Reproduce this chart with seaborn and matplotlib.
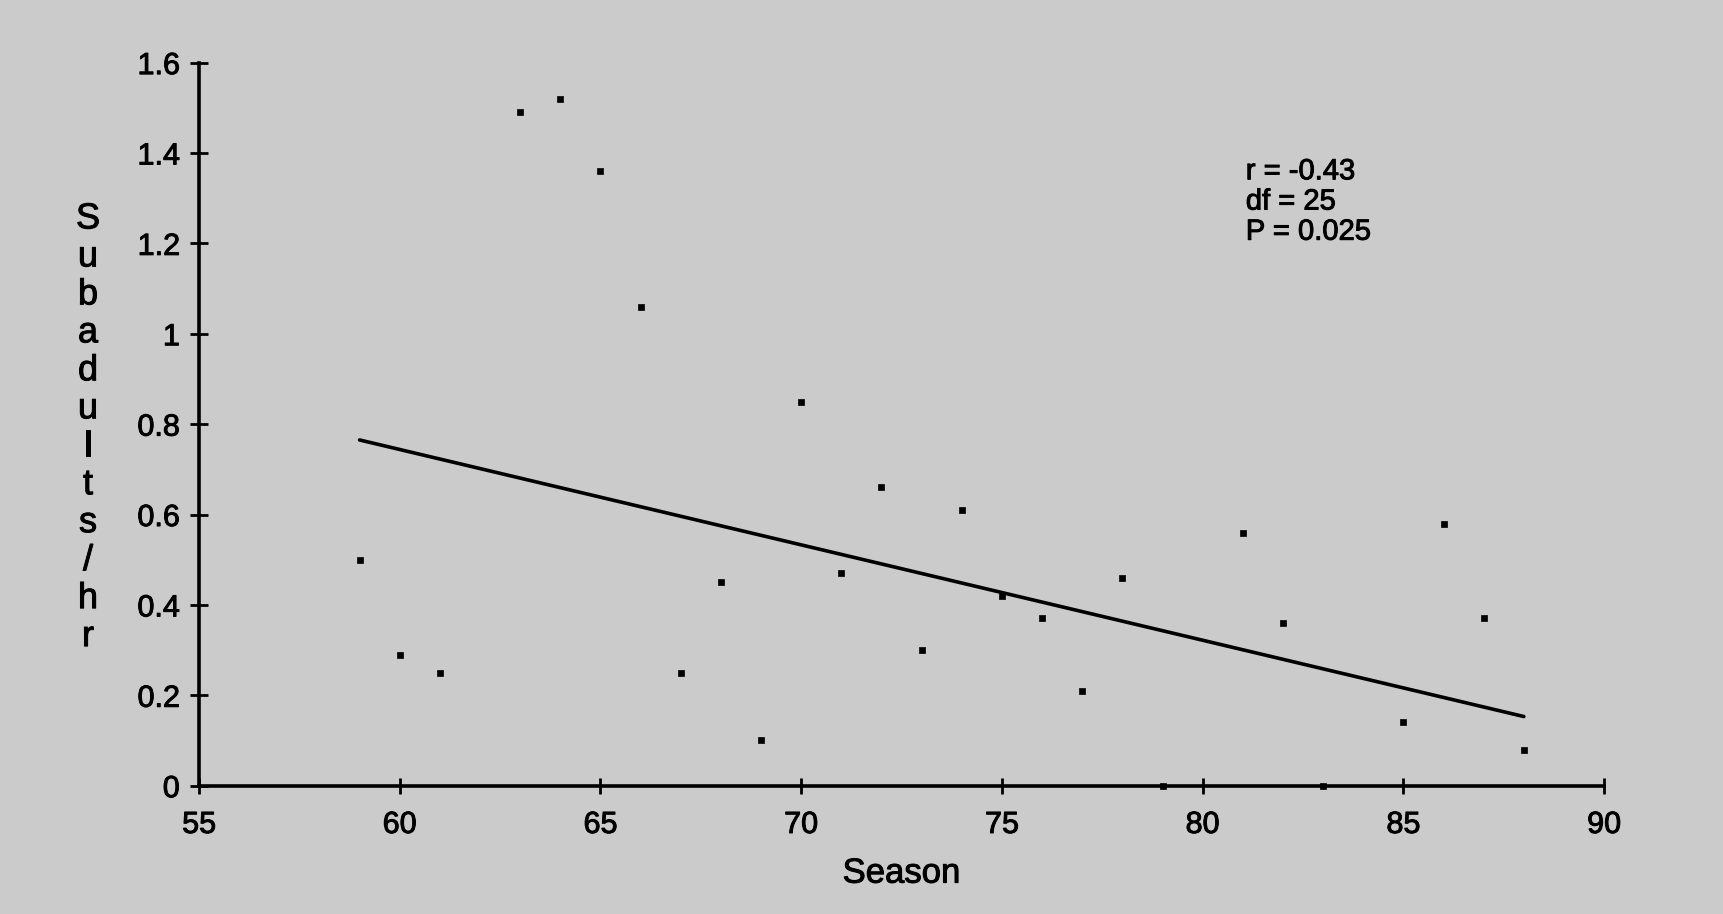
import matplotlib
matplotlib.use("Agg")
import matplotlib.pyplot as plt
import matplotlib.patheffects as pe
import seaborn as sns
import pandas as pd

# Subadults seen per hour, by season
seasons = [59, 60, 61, 63, 64, 65, 66, 67, 68, 69, 70, 71, 72, 73, 74,
           75, 76, 77, 78, 79, 81, 82, 83, 85, 86, 87, 88]
subadults_per_hr = [0.50, 0.29, 0.25, 1.49, 1.52, 1.36, 1.06, 0.25, 0.45, 0.10,
                    0.85, 0.47, 0.66, 0.30, 0.61, 0.42, 0.37, 0.21, 0.46, 0.00,
                    0.56, 0.36, 0.00, 0.14, 0.58, 0.37, 0.08]

# Fitted trend line end points
trend_x = [59, 88]
trend_y = [0.765, 0.153]

x_ticks = [55, 60, 65, 70, 75, 80, 85, 90]
y_ticks = [0, 0.2, 0.4, 0.6, 0.8, 1, 1.2, 1.4, 1.6]
y_tick_labels = ["0", "0.2", "0.4", "0.6", "0.8", "1", "1.2", "1.4", "1.6"]
stats_text = "r = -0.43\ndf = 25\nP = 0.025"

sns.set_theme(style="white")
plt.rcParams["font.family"] = ["Liberation Sans", "DejaVu Sans"]

bg = "#cbcbcb"
ink = [pe.withStroke(linewidth=0.7, foreground="black")]

fig = plt.figure(figsize=(17.23, 9.14), dpi=100, facecolor=bg)
ax = fig.add_axes([0.1155, 0.1404, 0.8155, 0.7911])
ax.set_facecolor(bg)

points = pd.DataFrame({"Season": seasons, "Subadults/hr": subadults_per_hr})
trend = pd.DataFrame({"Season": trend_x, "Subadults/hr": trend_y})

sns.lineplot(data=trend, x="Season", y="Subadults/hr", color="black",
             linewidth=2.6, ax=ax, zorder=2)
sns.scatterplot(data=points, x="Season", y="Subadults/hr", marker="s",
                s=17, color="black", edgecolor="black", linewidth=0.5,
                ax=ax, zorder=3, clip_on=False)

ax.set_xlim(55, 90)
ax.set_ylim(0, 1.6)
ax.set_xticks(x_ticks)
ax.set_xticklabels([str(t) for t in x_ticks])
ax.set_yticks(y_ticks)
ax.set_yticklabels(y_tick_labels)

for side in ("top", "right"):
    ax.spines[side].set_visible(False)
for side in ("left", "bottom"):
    ax.spines[side].set_color("black")
    ax.spines[side].set_linewidth(2.6)

ax.tick_params(axis="both", which="major", direction="inout", color="black",
               width=2.0, labelsize=22, labelcolor="black",
               bottom=True, left=True, top=False, right=False)
ax.tick_params(axis="y", length=13.5, pad=7)
ax.tick_params(axis="x", length=11, pad=12)

ax.set_xlabel("Season", fontsize=25, color="black", labelpad=12)
ax.set_ylabel("\n".join("Subadults/hr"), rotation=0, fontsize=26,
              color="black", va="center", ha="center", linespacing=1.11)
ax.yaxis.set_label_coords(-0.079, 0.495)

ax.text(0.745, 0.869, stats_text, transform=ax.transAxes, fontsize=21,
        color="black", va="top", ha="left", linespacing=1.1)

for t in ax.get_xticklabels() + ax.get_yticklabels() + ax.texts + [ax.xaxis.label, ax.yaxis.label]:
    t.set_path_effects(ink)

fig.savefig("out.png", dpi=100, facecolor=bg)
